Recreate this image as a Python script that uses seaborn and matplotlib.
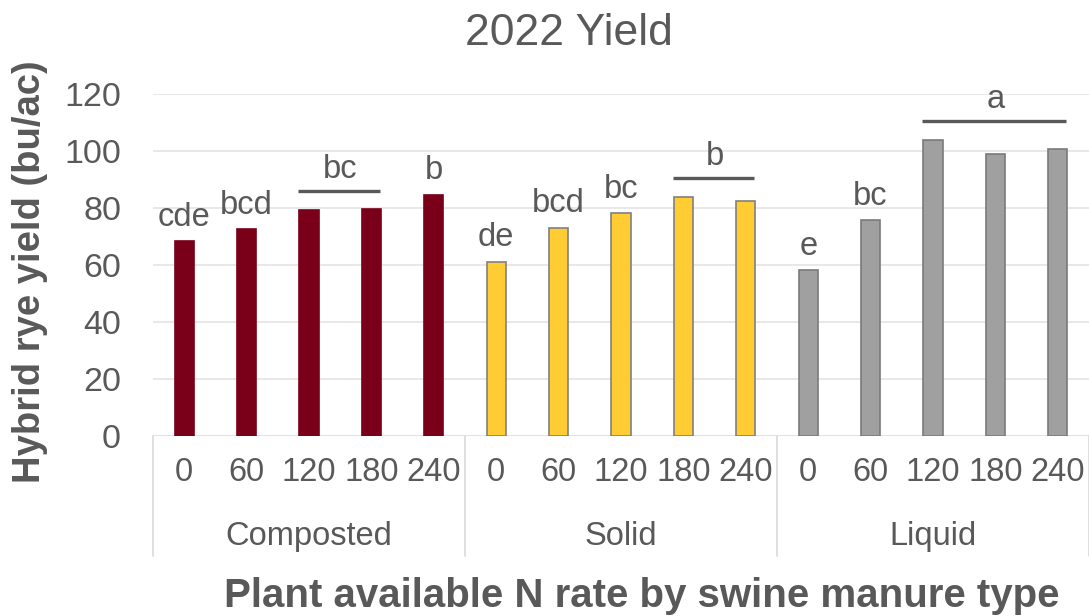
import matplotlib
matplotlib.use("Agg")
import matplotlib.pyplot as plt
import matplotlib.transforms as mtransforms
import numpy as np
import pandas as pd
import seaborn as sns

# ---- data -------------------------------------------------------------
manure_types = ["Composted", "Solid", "Liquid"]
n_rates = ["0", "60", "120", "180", "240"]
yield_composted = [68.3, 72.5, 79.3, 79.5, 84.7]
yield_solid = [61.2, 73.1, 78.1, 84.0, 82.5]
yield_liquid = [58.2, 75.8, 104.0, 99.0, 100.8]
letters_composted = ["cde", "bcd", "bc", "bc", "b"]
letters_solid = ["de", "bcd", "bc", "b", "b"]
letters_liquid = ["e", "bc", "a", "a", "a"]

yields = [yield_composted, yield_solid, yield_liquid]
letters = [letters_composted, letters_solid, letters_liquid]

rows = []
for mtype, ys, ls in zip(manure_types, yields, letters):
    for rate, y, l in zip(n_rates, ys, ls):
        rows.append({"slot": f"{mtype} {rate}", "type": mtype, "rate": rate,
                     "yield": y, "letter": l})
df = pd.DataFrame(rows)

# ---- style ------------------------------------------------------------
sns.set_theme(style="white")
plt.rcParams["font.family"] = ["Liberation Sans", "DejaVu Sans"]
TEXT = "#595959"
fill_colors = {"Composted": "#7A0019", "Solid": "#FFCC33", "Liquid": "#A0A0A0"}
edge_colors = {"Composted": "#7A0019", "Solid": "#808080", "Liquid": "#7A7A7A"}

W, H = 1089, 616
fig = plt.figure(figsize=(W / 100, H / 100), dpi=100)
ax = fig.add_axes([153 / W, 180 / H, 936 / W, 342 / H])

sns.barplot(data=df, x="slot", y="yield", hue="type", order=df["slot"].tolist(),
            hue_order=manure_types, palette=fill_colors, dodge=False,
            saturation=1, width=0.31, legend=False, ax=ax, errorbar=None)

for cont, mtype in zip(ax.containers, manure_types):
    for bar in cont:
        bar.set_edgecolor(edge_colors[mtype])
        bar.set_linewidth(1.2)

ax.set_xlim(-0.5, 14.5)
ax.set_ylim(0, 120)
ax.set_yticks(np.arange(0, 121, 20))
ax.yaxis.grid(True, color="#e4e4e4", lw=1.2)
ax.set_axisbelow(True)
for s in ax.spines.values():
    s.set_visible(False)
ax.axhline(0, color="#d9d9d9", lw=1.5, zorder=0.5)

ax.set_xticks(range(len(df)))
ax.set_xticklabels(df["rate"].tolist())
ax.tick_params(axis="x", length=0, pad=15, labelsize=23.5, labelcolor=TEXT)
ax.tick_params(axis="y", length=0, pad=23, labelsize=24.5, labelcolor=TEXT)
ax.set_xlabel("")
ax.set_ylabel("")

# category axis: group dividers and group names
trans = mtransforms.blended_transform_factory(ax.transData, ax.transAxes)
for xd in [-0.5, 4.5, 9.5, 14.5]:
    ax.plot([xd, xd], [0, -0.351], transform=trans, color="#d9d9d9",
            lw=1.2, clip_on=False)
for gi, mtype in enumerate(manure_types):
    ax.text(gi * 5 + 2, -0.295, mtype, transform=trans, ha="center",
            va="center", fontsize=23.5, color=TEXT)

# significance letters: single bars get a letter, runs of equal letters a bracket
for gi in range(len(manure_types)):
    ys, ls = yields[gi], letters[gi]
    i = 0
    while i < len(ls):
        j = i
        while j + 1 < len(ls) and ls[j + 1] == ls[i]:
            j += 1
        x0, x1 = gi * 5 + i, gi * 5 + j
        if j == i:
            ax.annotate(ls[i], (x0, ys[i]), xytext=(0, 11),
                        textcoords="offset points", ha="center",
                        va="baseline", fontsize=23.5, color=TEXT)
        else:
            top = max(ys[i:j + 1]) + 6.6
            ax.plot([x0 - 0.17, x1 + 0.13], [top, top], color=TEXT, lw=2.4,
                    solid_capstyle="butt")
            ax.annotate(ls[i], ((x0 + x1) / 2, top), xytext=(0, 9),
                        textcoords="offset points", ha="center",
                        va="baseline", fontsize=23.5, color=TEXT)
        i = j + 1

fig.text(569 / W, 1 - 45 / H, "2022 Yield", ha="center", va="baseline",
         fontsize=32, color=TEXT)
fig.text(642 / W, 1 - 607 / H, "Plant available N rate by swine manure type",
         ha="center", va="baseline", fontsize=29, fontweight="bold", color=TEXT)
fig.text(30 / W, 1 - 272 / H, "Hybrid rye yield (bu/ac)", rotation=90,
         ha="center", va="center", fontsize=27.5, fontweight="bold", color=TEXT)

fig.savefig("out.png", dpi=100, facecolor="white")
